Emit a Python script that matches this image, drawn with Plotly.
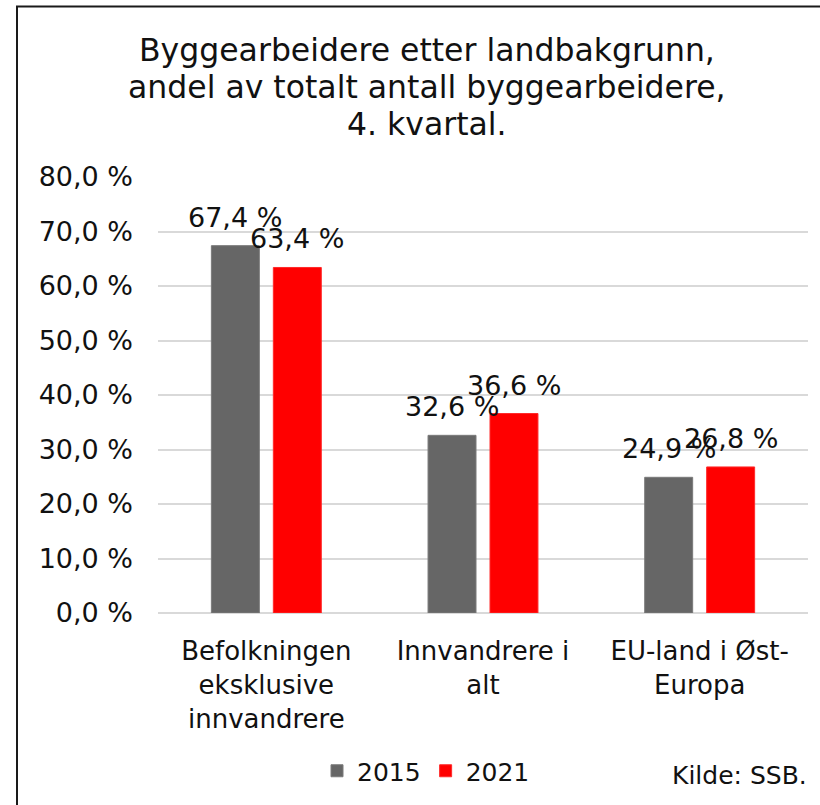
import plotly.graph_objects as go

# data
kategorier = ["Befolkningen<br>eksklusive<br>innvandrere", "Innvandrere i<br>alt", "EU-land i Øst-<br>Europa"]
aar_2015 = [67.4, 32.6, 24.9]
aar_2021 = [63.4, 36.6, 26.8]
serie_navn = ["2015", "2021"]
tittel_linjer = ["Byggearbeidere etter landbakgrunn,", "andel av totalt antall byggearbeidere,", "4. kvartal."]
y_ticks = [0, 10, 20, 30, 40, 50, 60, 70, 80]
kilde = "Kilde: SSB."

W, H = 820, 805
L, R, T, B = 158, 12, 177, 191
FONT = "DejaVu Sans"
FARGER = ["#666666", "#ff0000"]
KANT = ["#7a7a7a", "#ff2a2a"]


def px_x(x):
    return (x - L) / (W - L - R)


def px_y(y):
    return (H - B - y) / (H - T - B)


def pst(v):
    return f"{v:.1f} %".replace(".", ",")


fig = go.Figure()
annotations = []
for k, (navn, verdier) in enumerate(zip(serie_navn, [aar_2015, aar_2021])):
    fig.add_trace(go.Bar(
        x=kategorier, y=verdier, name=navn,
        marker=dict(color=FARGER[k], line=dict(color=KANT[k], width=1)),
    ))
    # dataetiketter over søylene
    for kat, v in zip(kategorier, verdier):
        annotations.append(dict(
            text=pst(v), x=kat, y=v, xref="x", yref="y",
            xshift=-31 if k == 0 else 31, yshift=11,
            xanchor="center", yanchor="bottom", showarrow=False,
            font=dict(size=27, color="#111111", family=FONT),
        ))

for i, linje in enumerate(tittel_linjer):
    annotations.append(dict(
        text=linje, xref="paper", yref="paper", x=px_x(427), y=px_y(50 + 37 * i),
        xanchor="center", yanchor="middle", showarrow=False,
        font=dict(size=31.5, color="#111111", family=FONT),
    ))
annotations.append(dict(
    text=kilde, xref="paper", yref="paper", x=px_x(809), y=px_y(777),
    xanchor="right", yanchor="middle", showarrow=False,
    font=dict(size=25, color="#111111", family=FONT),
))

fig.update_layout(
    width=W, height=H,
    margin=dict(l=L, r=R, t=T, b=B),
    paper_bgcolor="white", plot_bgcolor="white",
    barmode="group", bargap=0.428, bargroupgap=0.226,
    font=dict(family=FONT, color="#111111"),
    showlegend=True,
    legend=dict(
        orientation="h", x=px_x(426), y=px_y(771), xanchor="center", yanchor="middle",
        font=dict(size=25, family=FONT, color="#111111"), itemwidth=30,
        bgcolor="rgba(0,0,0,0)",
    ),
    xaxis=dict(
        showgrid=False, showline=False, ticks="",
        tickfont=dict(size=26, family=FONT, color="#111111"),
        ticklabelstandoff=20,
    ),
    yaxis=dict(
        range=[0, 80], tickvals=y_ticks, ticktext=[pst(v) for v in y_ticks],
        showgrid=True, gridcolor="#d9d9d9", gridwidth=2,
        zeroline=True, zerolinecolor="#d9d9d9", zerolinewidth=2,
        showline=False, ticks="",
        tickfont=dict(size=27, family=FONT, color="#111111"),
        ticklabelstandoff=24,
    ),
    annotations=annotations,
    shapes=[dict(
        type="rect", xref="paper", yref="paper",
        x0=px_x(17), x1=px_x(900), y0=px_y(900), y1=px_y(6),
        line=dict(color="#1a1a1a", width=2), fillcolor="rgba(0,0,0,0)", layer="above",
    )],
)

fig.write_html("out.html", config={"displayModeBar": False},
               post_script="document.body.style.margin='0';")
